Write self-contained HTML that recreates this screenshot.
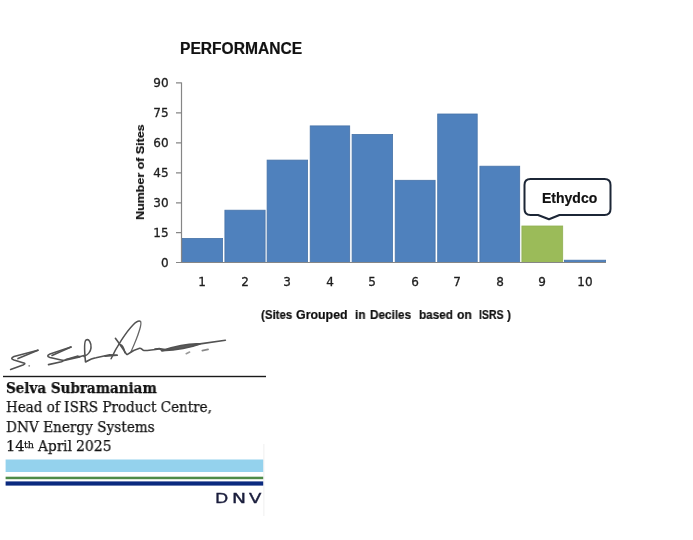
<!DOCTYPE html>
<html><head><meta charset="utf-8">
<style>
html,body{margin:0;padding:0;background:#fff;}
body{width:693px;height:540px;position:relative;overflow:hidden;}
.t{position:absolute;white-space:pre;line-height:1;will-change:transform;}
.sans{font-family:"Liberation Sans",sans-serif;-webkit-text-stroke:0.2px #111;}
.dv{font-family:"DejaVu Sans","Liberation Sans",sans-serif;}
.serif{font-family:"DejaVu Serif","Liberation Serif",serif;-webkit-text-stroke:0.25px #111;}
.yl{position:absolute;will-change:transform;width:30.6px;-webkit-text-stroke:0.3px #1e1e1e;text-align:right;font-size:12px;color:#1e1e1e;font-family:"DejaVu Sans",sans-serif;line-height:1;}
.xl{position:absolute;will-change:transform;width:40px;-webkit-text-stroke:0.3px #1e1e1e;text-align:center;font-size:12px;color:#1e1e1e;font-family:"DejaVu Sans",sans-serif;line-height:1;}
.dnv{top:490.5px;font-size:14.4px;color:#1a1d3c;transform-origin:0 0;-webkit-text-stroke:0.35px #1a1d3c;}
.xt{top:309px;font-size:12.4px;font-weight:bold;color:#111;transform-origin:0 0;transform:scaleX(0.84);}
</style></head>
<body>
<svg width="693" height="540" style="position:absolute;left:0;top:0">
  <!-- bars -->
  <g fill="#4f81bd" stroke="#4673a8" stroke-width="0.8">
    <rect x="182.1" y="238.4" width="40.5" height="24.1"/>
    <rect x="224.9" y="210.2" width="40.2" height="52.3"/>
    <rect x="267.1" y="160.1" width="40.5" height="102.4"/>
    <rect x="310.2" y="125.9" width="39.5" height="136.6"/>
    <rect x="352.1" y="134.4" width="40.5" height="128.1"/>
    <rect x="395.2" y="180.3" width="39.9" height="82.2"/>
    <rect x="437.7" y="114.0" width="39.5" height="148.5"/>
    <rect x="479.9" y="166.2" width="39.8" height="96.3"/>
    <rect x="564.4" y="260.2" width="41.2" height="2.3"/>
  </g>
  <rect x="521.9" y="226" width="40.8" height="36.5" fill="#9bbb59" stroke="#90b052" stroke-width="0.8"/>
  <!-- axes -->
  <g stroke="#868686" stroke-width="1.2" fill="none">
    <path d="M181.5 82.5V262.5H606"/>
    <path d="M176 82.8h5.5M176 112.8h5.5M176 142.8h5.5M176 172.8h5.5M176 202.8h5.5M176 232.7h5.5M176 262.5h5.5"/>
  </g>
  <!-- callout -->
  <path d="M530.5 179.1 H604.5 Q610.5 179.1 610.5 185.1 V209 Q610.5 215 604.5 215 H559.5 L549 219.3 L538 215 H530.5 Q524.5 215 524.5 209 V185.1 Q524.5 179.1 530.5 179.1 Z" fill="#fff" stroke="#1c2636" stroke-width="2" stroke-linejoin="round"/>
  <!-- signature -->
  <g fill="none" stroke="#525252" stroke-width="1.6" stroke-linecap="round" stroke-linejoin="round">
    <path d="M18,358.6 L37.9,350.2"/>
    <path d="M37.9,350.2 L14,356.5 Q9.5,358.5 14,360 L24.5,363.2 Q25.5,364 23,365 L10.6,369.4"/>
    <path d="M52,355.4 L71,347.1"/>
    <path d="M71,347.1 L50,354 Q45.5,356 50,357.5 L62.3,360.3 Q63.5,361 61.5,361.8 L48.5,364.6"/>
    <path d="M63,360.6 L79.6,356.8" stroke-width="2"/>
    <path d="M66,359.5 L78,356"/>
    <path d="M79.6,356.8 L84,355.5"/>
    <path d="M85.5,361.8 C84.5,352 83.5,342 86,340 C89,338.5 91.5,343 91,348 C90.5,352 87.5,355 84,356.5"/>
    <path d="M86,361.8 C89,360 92,358.3 96,357.8 L109.7,354.8 L117.1,355.2"/>
    <path d="M105,356.1 L117.1,355.2"/>
    <path d="M111.1,358.7 C116,348 126,332 133,325 C136,322 139,320.5 140.5,321.5" stroke-width="1.5"/>
    <path d="M140.5,321.5 C142,323 139,334 131,351.8" stroke-width="1.2" stroke="#666"/>
    <path d="M115.4,338.3 C119,343 123,349 126.6,354.4"/>
    <path d="M120.6,344.8 Q123.2,345.5 124.9,352.6"/>
    <path d="M127.5,354.4 C130,352.5 135,349.5 139.6,348.3 C141.5,348 142.5,350.5 144,350.5 C148,350.5 153,350 160.4,348.7 L165,349.6"/>
    <path d="M155,349 L159.6,348.5 L161.9,350.6 L200,343.9 L225.4,340.2"/>
    <path d="M161.9,350.6 Q185,343 200,343.9 Q185,349.5 161.9,350.6 Z" fill="#5a5a5a"/>
    <path d="M186.2,353.7 L189.6,352" stroke="#999"/>
    <path d="M202.3,350.6 L208.1,349.4" stroke="#888"/>
  </g>
  <circle cx="29.2" cy="365.8" r="0.9" fill="#888"/>
  <!-- signature underline -->
  <rect x="3" y="375.8" width="263" height="1.4" fill="#1a1a1a"/>
  <!-- DNV bands -->
  <rect x="5.6" y="459.5" width="257.8" height="12.5" fill="#94d2ed"/>
  <rect x="5.6" y="476.7" width="257.8" height="2.5" fill="#4e8b47"/>
  <rect x="5.6" y="481.4" width="257.8" height="4.2" fill="#0b2a7f"/>
  <rect x="263.5" y="444" width="0.8" height="72" fill="#ececec"/>
</svg>

<div class="t sans" style="left:179.6px;top:40.8px;font-size:15.6px;font-weight:bold;color:#111;">PERFORMANCE</div>

<div class="yl" style="left:138px;top:77px;">90</div>
<div class="yl" style="left:138px;top:107px;">75</div>
<div class="yl" style="left:138px;top:137px;">60</div>
<div class="yl" style="left:138px;top:167px;">45</div>
<div class="yl" style="left:138px;top:197px;">30</div>
<div class="yl" style="left:138px;top:227px;">15</div>
<div class="yl" style="left:138px;top:257px;">0</div>

<div class="xl" style="left:182.3px;top:276px;">1</div>
<div class="xl" style="left:224.8px;top:276px;">2</div>
<div class="xl" style="left:267.2px;top:276px;">3</div>
<div class="xl" style="left:309.7px;top:276px;">4</div>
<div class="xl" style="left:352.2px;top:276px;">5</div>
<div class="xl" style="left:394.6px;top:276px;">6</div>
<div class="xl" style="left:437.1px;top:276px;">7</div>
<div class="xl" style="left:479.6px;top:276px;">8</div>
<div class="xl" style="left:522px;top:276px;">9</div>
<div class="xl" style="left:565px;top:276px;">10</div>

<div class="t sans" style="left:135.1px;top:220.2px;font-size:10.8px;font-weight:bold;color:#111;transform-origin:0 0;transform:rotate(-90deg) scaleX(1.155);">Number of Sites</div>


<div class="t sans xt" style="left:260.6px;transform:scaleX(0.926);">(Sites</div>
<div class="t sans xt" style="left:296.3px;transform:scaleX(0.999);">Grouped</div>
<div class="t sans xt" style="left:355.4px;transform:scaleX(0.948);">in</div>
<div class="t sans xt" style="left:370.4px;transform:scaleX(0.948);">Deciles</div>
<div class="t sans xt" style="left:419.4px;transform:scaleX(0.948);">based</div>
<div class="t sans xt" style="left:456.7px;transform:scaleX(0.98);">on</div>
<div class="t sans xt" style="left:478.9px;transform:scaleX(0.845);">ISRS</div>
<div class="t sans xt" style="left:506.8px;transform:scaleX(0.948);">)</div>
<div class="t sans" style="left:541.5px;top:191px;font-size:14px;font-weight:bold;color:#111;">Ethydco</div>

<div class="t serif" style="left:6px;top:380.5px;font-size:14px;font-weight:bold;color:#111;transform-origin:0 0;transform:scaleX(0.965);">Selva Subramaniam</div>
<div class="t serif" style="left:6px;top:400px;font-size:14.6px;color:#111;transform-origin:0 0;transform:scaleX(0.925);">Head of ISRS Product Centre,</div>
<div class="t serif" style="left:6px;top:419.8px;font-size:14.6px;color:#111;transform-origin:0 0;transform:scaleX(0.935);">DNV Energy Systems</div>
<div class="t serif" style="left:5.6px;top:438.5px;font-size:14.6px;color:#111;">14</div>
<div class="t serif" style="left:24px;top:439.6px;font-size:9.6px;color:#111;">th</div>
<div class="t serif" style="left:37.8px;top:438.5px;font-size:14.6px;color:#111;transform-origin:0 0;transform:scaleX(0.94);">April</div>
<div class="t serif" style="left:76.4px;top:438.5px;font-size:14.6px;color:#111;transform-origin:0 0;transform:scaleX(0.96);">2025</div>

<div class="t dv dnv" style="left:214.8px;transform:scaleX(1.2);">D</div>
<div class="t dv dnv" style="left:232.1px;transform:scaleX(1.3);">N</div>
<div class="t dv dnv" style="left:248.9px;transform:scaleX(1.26);">V</div>
</body></html>
